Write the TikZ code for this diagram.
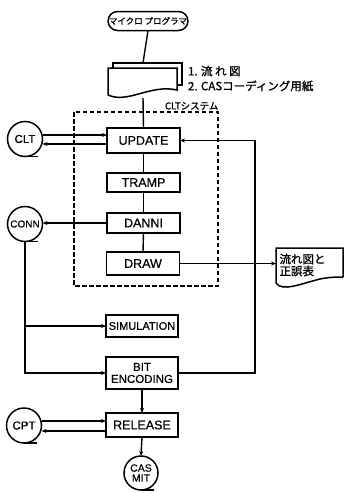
\documentclass[tikz,border=0pt]{standalone}
\usepackage{fontspec}
\setmainfont{Liberation Sans}[FakeBold=0.6]
\newfontfamily\jp{Noto Sans CJK JP}[FakeBold=1.2]
\usetikzlibrary{arrows.meta,shapes.misc}
\begin{document}
\begin{tikzpicture}[x=1pt,y=-1pt,
  every node/.style={inner sep=0pt,outer sep=0pt},
  proc/.style={draw,line width=1.5pt,minimum width=73pt,font=\fontsize{12.5}{13}\selectfont},
  procb/.style={proc,line width=2.3pt},
  tape/.style={draw,circle,line width=1.5pt,minimum size=35pt,font=\fontsize{11.5}{11}\selectfont},
  ln/.style={line width=1.4pt},
  arr/.style={ln,-{Stealth[length=5pt,width=4pt]}},
  jlab/.style={font=\jp\fontsize{11.5}{12}\selectfont,anchor=west}
]
\useasboundingbox (0,0) rectangle (344,493);

% start terminal
\node[draw,rounded rectangle,line width=1.5pt,minimum width=77pt,minimum height=19pt,
  font=\jp\fontsize{8.5}{9}\selectfont] (mp) at (148,21) {マイクロ プログラマ};

% multiple document
\coordinate (docTop) at (143,63);
\coordinate (docBot) at (143,98);
\draw[line width=1.5pt] (113,68) -- (113,63) -- (182,63) -- (182,85) -- (177,85);
\draw[line width=1.5pt] (108,68) -- (177,68) -- (177,90)
   .. controls (150,84) and (128,104) .. (108,95) -- cycle;
\node[jlab] (l1) at (188,71) {1. 流 れ 図};
\node[jlab] (l2) at (188,86) {2. CASコーディング用紙};
\node[anchor=west,font=\jp\fontsize{9.5}{10}\selectfont] (clts) at (165,106) {CLTシステム};

% dashed system box
\draw[line width=1.6pt,dash pattern=on 4.5pt off 2.5pt] (74,112) rectangle (218,286);

% process boxes
\node[proc,minimum height=25pt] (upd) at (143.5,140.5) {UPDATE};
\node[procb,minimum height=19pt] (trp) at (143.5,182.5) {TRAMP};
\node[proc,minimum height=20pt] (dan) at (143.5,223) {DANNI};
\node[proc,minimum height=23pt] (drw) at (143,263.5) {DRAW};
\node[procb,minimum width=72pt,minimum height=22pt,font=\fontsize{11}{12}\selectfont] (sim) at (142,326) {SIMULATION};
\node[proc,minimum width=72pt,minimum height=32pt,align=center,font=\fontsize{11.5}{12}\selectfont] (bit) at (142,373) {BIT\\ENCODING};
\node[proc,minimum width=72pt,minimum height=24pt] (rel) at (142,425) {RELEASE};

% tapes
\node[tape] (clt) at (25,139) {CLT};
\node[tape,font=\fontsize{10}{11}\selectfont] (conn) at (25,224) {CONN};
\node[tape] (cpt) at (24,425.5) {CPT};
\node[tape,minimum size=34pt,align=center,font=\fontsize{10.5}{10}\selectfont] (cas) at (141,473) {CAS\\MIT};
\draw[ln] (clt.south) -- ++(13,0);
\draw[ln] (conn.south) -- ++(13,0);
\draw[ln] (cpt.south) -- ++(13,0);
\draw[ln] (cas.south) -- ++(13,0);

% output document
\node[anchor=north west,minimum width=67pt,minimum height=30pt,text width=64pt,align=left,
  font=\jp\fontsize{11.5}{12}\selectfont] (doc2) at (276,250) {\hspace*{2pt}流れ図と\\\hspace*{2pt}正誤表};
\draw[line width=1.5pt] (343,277) -- (343,248) -- (276,248) -- (276,283)
   .. controls (282,292) and (300,284) .. (320,279) .. controls (330,277) and (338,277) .. (343,277);

% connectors
\draw[ln] (mp.south) -- (docTop);
\draw[ln] (docBot) -- (upd.north);
\coordinate (cltU) at (0,135);
\coordinate (cltL) at (0,144);
\draw[arr] (clt.east |- cltU) -- (upd.west |- cltU);
\draw[arr] (upd.west |- cltL) -- (clt.east |- cltL);
\draw[ln] (upd.south) -- (trp.north);
\draw[ln] (trp.south) -- (dan.north);
\draw[ln] (dan.south) -- (drw.north);
\draw[arr] (dan.west) -- (conn.east |- dan.west);
\draw[arr] (drw.east) -- (doc2.west |- drw.east);
\draw[arr] (conn.south) |- (bit.west);
\draw[arr] (conn.south |- sim.west) -- (sim.west);
\draw[arr] (bit.east) -- ++(77,0) |- (upd.east);
\draw[arr] (bit.south) -- (rel.north);
\coordinate (cptU) at (0,421);
\coordinate (cptL) at (0,431);
\draw[arr] (cpt.east |- cptU) -- (rel.west |- cptU);
\draw[arr] (rel.west |- cptL) -- (cpt.east |- cptL);
\draw[arr] (rel.south) -- (cas.north);
\end{tikzpicture}
\end{document}
